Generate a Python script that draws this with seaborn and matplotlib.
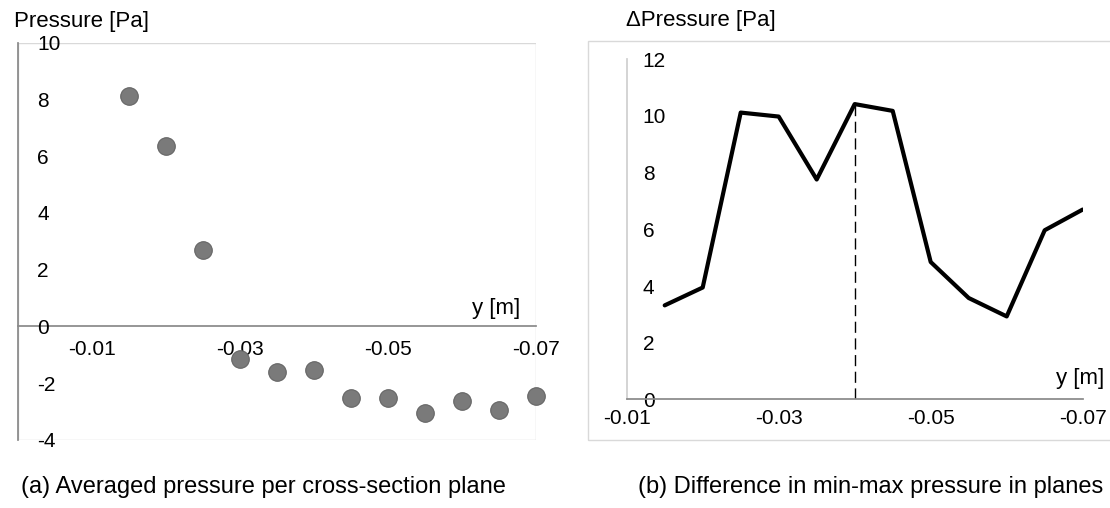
import matplotlib
matplotlib.use("Agg")
import matplotlib.pyplot as plt
import numpy as np
import seaborn as sns
from matplotlib.patches import Rectangle

# ── data ───────────────────────────────────────────
y_pos = [-0.015, -0.020, -0.025, -0.030, -0.035, -0.040,
         -0.045, -0.050, -0.055, -0.060, -0.065, -0.070]
p_avg = [8.13, 6.36, 2.69, -1.14, -1.62, -1.55,
         -2.52, -2.52, -3.05, -2.64, -2.93, -2.46]
dp_minmax = [3.32, 3.95, 10.12, 9.98, 7.76, 10.42,
             10.18, 4.85, 3.58, 2.93, 5.97, 6.70]

a_yticks = [10, 8, 6, 4, 2, 0, -2, -4]
a_xticks = [-0.01, -0.03, -0.05, -0.07]
a_xminor = [-0.005, -0.015, -0.02, -0.025, -0.035, -0.04, -0.045,
            -0.055, -0.06, -0.065]
b_yticks = [0, 2, 4, 6, 8, 10, 12]
b_xticks = [-0.01, -0.03, -0.05, -0.07]
b_xminor = [-0.02, -0.04, -0.06]

# ── styling ───────────────────────────────────────
sns.set_theme(style="white")
plt.rcParams["font.family"] = ["Liberation Sans", "DejaVu Sans"]
plt.rcParams["axes.unicode_minus"] = False
plt.rcParams["text.color"] = "black"
plt.rcParams["axes.labelcolor"] = "black"
plt.rcParams["xtick.labelcolor"] = "black"
plt.rcParams["ytick.labelcolor"] = "black"
axis_grey = "#898989"
frame_grey = "#d9d9d9"
tick_fs = 15
lab_fs = 16

fig = plt.figure(figsize=(11.1, 5.08), dpi=100)
ax1 = fig.add_axes([0.0165, 0.1339, 0.4660, 0.7821])
ax2 = fig.add_axes([0.5646, 0.2136, 0.4108, 0.6697])

# ── (a) averaged pressure ─────────────────────────
sns.scatterplot(x=y_pos, y=p_avg, ax=ax1, s=160, color="#7a7a7a",
                edgecolor="#656565", linewidth=0.8, clip_on=False, zorder=3)
ax1.set_xlim(0, -0.07)
ax1.set_ylim(-4, 10)
ax1.set_axisbelow(False)

for s in ["top", "right"]:
    ax1.spines[s].set_visible(False)
ax1.spines["bottom"].set_position(("data", 0))
ax1.spines["bottom"].set_color(axis_grey)
ax1.spines["left"].set_color(axis_grey)
ax1.add_patch(Rectangle((0, 0), 1, 1, transform=ax1.transAxes, fill=False,
                        ec=frame_grey, lw=1, zorder=0.2))

ax1.set_xticks(a_xticks, [str(v) for v in a_xticks])
ax1.set_xticks(a_xminor, minor=True)
ax1.set_yticks(a_yticks, [str(v) for v in a_yticks])
ax1.tick_params(axis="x", which="both", direction="out", length=4, width=0.8,
                color=axis_grey, labelsize=tick_fs, pad=6)
ax1.tick_params(axis="y", direction="in", length=5, width=0.8,
                color=axis_grey, labelsize=tick_fs, pad=-13.5)
for lab in ax1.get_yticklabels():
    lab.set_horizontalalignment("left")

ax1.set_xlabel("y [m]", fontsize=lab_fs, ha="right", va="center")
ax1.xaxis.set_label_coords(0.970, 0.330)
ax1.set_ylabel("Pressure [Pa]", fontsize=lab_fs, rotation=0, ha="left", va="center")
ax1.yaxis.set_label_coords(-0.008, 1.053)

# ── (b) min-max pressure difference ───────────────
sns.lineplot(x=y_pos, y=dp_minmax, ax=ax2, color="black", lw=3.0, sort=False)
ax2.vlines(y_pos[5], 0, dp_minmax[5], color="black", lw=1.0,
           linestyles=(0, (8, 4)))
ax2.set_xlim(-0.01, -0.07)
ax2.set_ylim(0, 12)

for s in ["top", "right"]:
    ax2.spines[s].set_visible(False)
ax2.spines["left"].set_color("#cfcfcf")
ax2.spines["bottom"].set_color(axis_grey)

ax2.set_xticks(b_xticks, [str(v) for v in b_xticks])
ax2.set_xticks(b_xminor, minor=True)
ax2.set_yticks(b_yticks, [str(v) for v in b_yticks])
ax2.tick_params(axis="x", which="both", direction="out", length=4, width=0.8,
                color=axis_grey, labelsize=tick_fs, pad=3)
ax2.tick_params(axis="y", direction="out", length=3, width=0.8,
                color="#cfcfcf", labelsize=tick_fs, pad=-14.5)
for lab in ax2.get_yticklabels():
    lab.set_horizontalalignment("left")

ax2.set_xlabel("y [m]", fontsize=lab_fs, ha="right", va="center")
ax2.xaxis.set_label_coords(1.047, 0.063)
ax2.set_ylabel("\u0394Pressure [Pa]", fontsize=lab_fs, rotation=0, ha="left", va="center")
ax2.yaxis.set_label_coords(-0.002, 1.115)

# outer chart-area frame of panel (b)
fig.add_artist(Rectangle((0.530, 0.1339), 0.48, 0.7854, transform=fig.transFigure,
                         fill=False, ec=frame_grey, lw=1))

# ── captions ──────────────────────────────────────
fig.text(0.019, 0.041, "(a) Averaged pressure per cross-section plane",
         fontsize=17, ha="left", va="center")
fig.text(0.994, 0.041, "(b) Difference in min-max pressure in planes",
         fontsize=17, ha="right", va="center")

fig.savefig("out.png", dpi=100)
